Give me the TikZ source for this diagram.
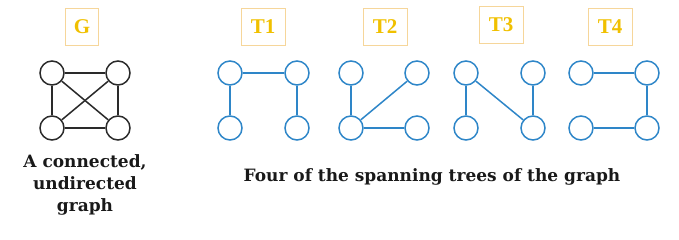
\documentclass[tikz,border=0pt]{standalone}
\usepackage{fontspec}
\setmainfont{DejaVu Serif}
\newfontfamily\labelfont{Liberation Serif}
\usetikzlibrary{shapes}
\definecolor{treeblue}{HTML}{2E86C8}
\definecolor{gold}{HTML}{F0C000}
\definecolor{goldframe}{HTML}{F6D69A}
\definecolor{graphgray}{HTML}{2A2A2A}
\tikzstyle{vertex} = [draw, circle, minimum size=24pt, inner sep=0pt, line width=1.5pt]
\tikzstyle{gvertex} = [vertex, draw=graphgray]
\tikzstyle{tvertex} = [vertex, draw=treeblue]
\tikzstyle{title} = [draw=goldframe, line width=0.8pt, minimum width=44pt, minimum height=37pt, text=gold, font=\labelfont\bfseries\fontsize{21}{21}\selectfont]
\tikzstyle{gedge} = [draw=graphgray, line width=1.5pt]
\tikzstyle{tedge} = [draw=treeblue, line width=1.5pt]
\tikzstyle{caption} = [font=\bfseries\fontsize{17}{22}\selectfont, text=black!90, align=center]

\begin{document}
\begin{tikzpicture}[x=1pt, y=-1pt]
	\useasboundingbox (0,0) rectangle (679,240);
	
	% the graph G
	\node [title, minimum width=33pt] at (82, 27) (G) {G};
	\node [gvertex] at (52, 73) (g tl) {};
	\node [gvertex] at (118, 73) (g tr) {};
	\node [gvertex] at (52, 128) (g bl) {};
	\node [gvertex] at (118, 128) (g br) {};
	
	\path [gedge] (g tl) -- (g tr);
	\path [gedge] (g bl) -- (g br);
	\path [gedge] (g tl) -- (g bl);
	\path [gedge] (g tr) -- (g br);
	\path [gedge] (g tl) -- (g br);
	\path [gedge] (g tr) -- (g bl);
	
	\node [caption] at (85, 185) (g text) {A connected,\\undirected\\graph};
	
	% tree T1
	\node [title] at (263, 27) (T1) {T1};
	\node [tvertex] at (230, 73) (a tl) {};
	\node [tvertex] at (297, 73) (a tr) {};
	\node [tvertex] at (230, 128) (a bl) {};
	\node [tvertex] at (297, 128) (a br) {};
	
	\path [tedge] (a tl) -- (a tr);
	\path [tedge] (a tl) -- (a bl);
	\path [tedge] (a tr) -- (a br);
	
	% tree T2
	\node [title] at (385, 27) (T2) {T2};
	\node [tvertex] at (351, 73) (b tl) {};
	\node [tvertex] at (417, 73) (b tr) {};
	\node [tvertex] at (351, 128) (b bl) {};
	\node [tvertex] at (417, 128) (b br) {};
	
	\path [tedge] (b tl) -- (b bl);
	\path [tedge] (b bl) -- (b tr);
	\path [tedge] (b bl) -- (b br);
	
	% tree T3
	\node [title] at (501, 25) (T3) {T3};
	\node [tvertex] at (466, 73) (c tl) {};
	\node [tvertex] at (533, 73) (c tr) {};
	\node [tvertex] at (466, 128) (c bl) {};
	\node [tvertex] at (533, 128) (c br) {};
	
	\path [tedge] (c tl) -- (c bl);
	\path [tedge] (c tl) -- (c br);
	\path [tedge] (c tr) -- (c br);
	
	% tree T4
	\node [title] at (610, 27) (T4) {T4};
	\node [tvertex] at (581, 73) (d tl) {};
	\node [tvertex] at (647, 73) (d tr) {};
	\node [tvertex] at (581, 128) (d bl) {};
	\node [tvertex] at (647, 128) (d br) {};
	
	\path [tedge] (d tl) -- (d tr);
	\path [tedge] (d tr) -- (d br);
	\path [tedge] (d bl) -- (d br);
	
	\node [caption] at (432, 177) (t text) {Four of the spanning trees of the graph};
	
\end{tikzpicture}
\end{document}
